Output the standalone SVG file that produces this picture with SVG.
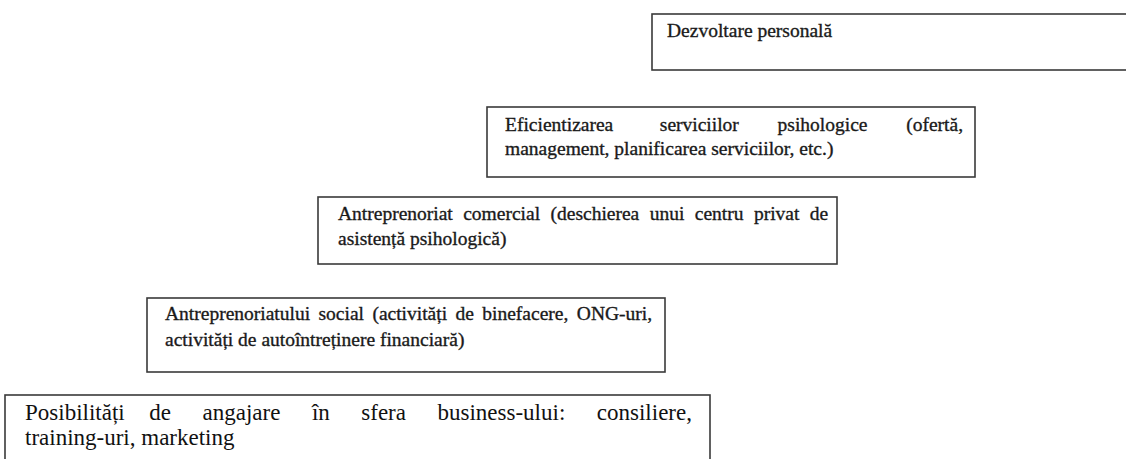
<svg xmlns="http://www.w3.org/2000/svg" width="1126" height="459" viewBox="0 0 1126 459">
<style>
.box{fill:#ffffff;stroke:#3a3a3a;stroke-width:1.6}
.t{font-family:"Liberation Serif","Times New Roman",serif;font-size:19.5px;fill:#1a1a1a;stroke:#1a1a1a;stroke-width:0.35}
.t5{font-family:"Liberation Serif","Times New Roman",serif;font-size:23px;fill:#111111}
</style>
<rect width="1126" height="459" fill="#ffffff"/>
<g id="connectors"/>
<g id="node-dezvoltare">
<rect class="box" x="652" y="14" width="480" height="56"/>
<text class="t" x="667" y="37">Dezvoltare personală</text>
</g>
<g id="node-eficientizarea">
<rect class="box" x="487" y="107" width="488" height="70"/>
<text class="t" y="131"><tspan x="505">Eficientizarea</tspan><tspan x="659.8">serviciilor</tspan><tspan x="777.6">psihologice</tspan><tspan x="906.2">(ofertă,</tspan></text>
<text class="t" x="505" y="155">management, planificarea serviciilor, etc.)</text>
</g>
<g id="node-comercial">
<rect class="box" x="318" y="197" width="519" height="67"/>
<text class="t" y="220"><tspan x="338">Antreprenoriat</tspan><tspan x="463.2">comercial</tspan><tspan x="550.5">(deschierea</tspan><tspan x="649.7">unui</tspan><tspan x="694.8">centru</tspan><tspan x="753.9">privat</tspan><tspan x="809.8">de</tspan></text>
<text class="t" x="338" y="245">asistență psihologică)</text>
</g>
<g id="node-social">
<rect class="box" x="147" y="298" width="518" height="74"/>
<text class="t" y="320"><tspan x="165">Antreprenoriatului</tspan><tspan x="318.5">social</tspan><tspan x="372.4">(activități</tspan><tspan x="455.5">de</tspan><tspan x="482.3">binefacere,</tspan><tspan x="576.8">ONG-uri,</tspan></text>
<text class="t" x="165" y="346">activități de autoîntreținere financiară)</text>
</g>
<g id="node-business">
<rect class="box" x="5" y="395" width="705" height="80"/>
<text class="t5" y="420"><tspan x="25">Posibilități</tspan><tspan x="149.3">de</tspan><tspan x="202.5">angajare</tspan><tspan x="311.9">în</tspan><tspan x="361.3">sfera</tspan><tspan x="437.5">business-ului:</tspan><tspan x="596.8">consiliere,</tspan></text>
<text class="t5" x="25" y="445">training-uri, marketing</text>
</g>
</svg>
